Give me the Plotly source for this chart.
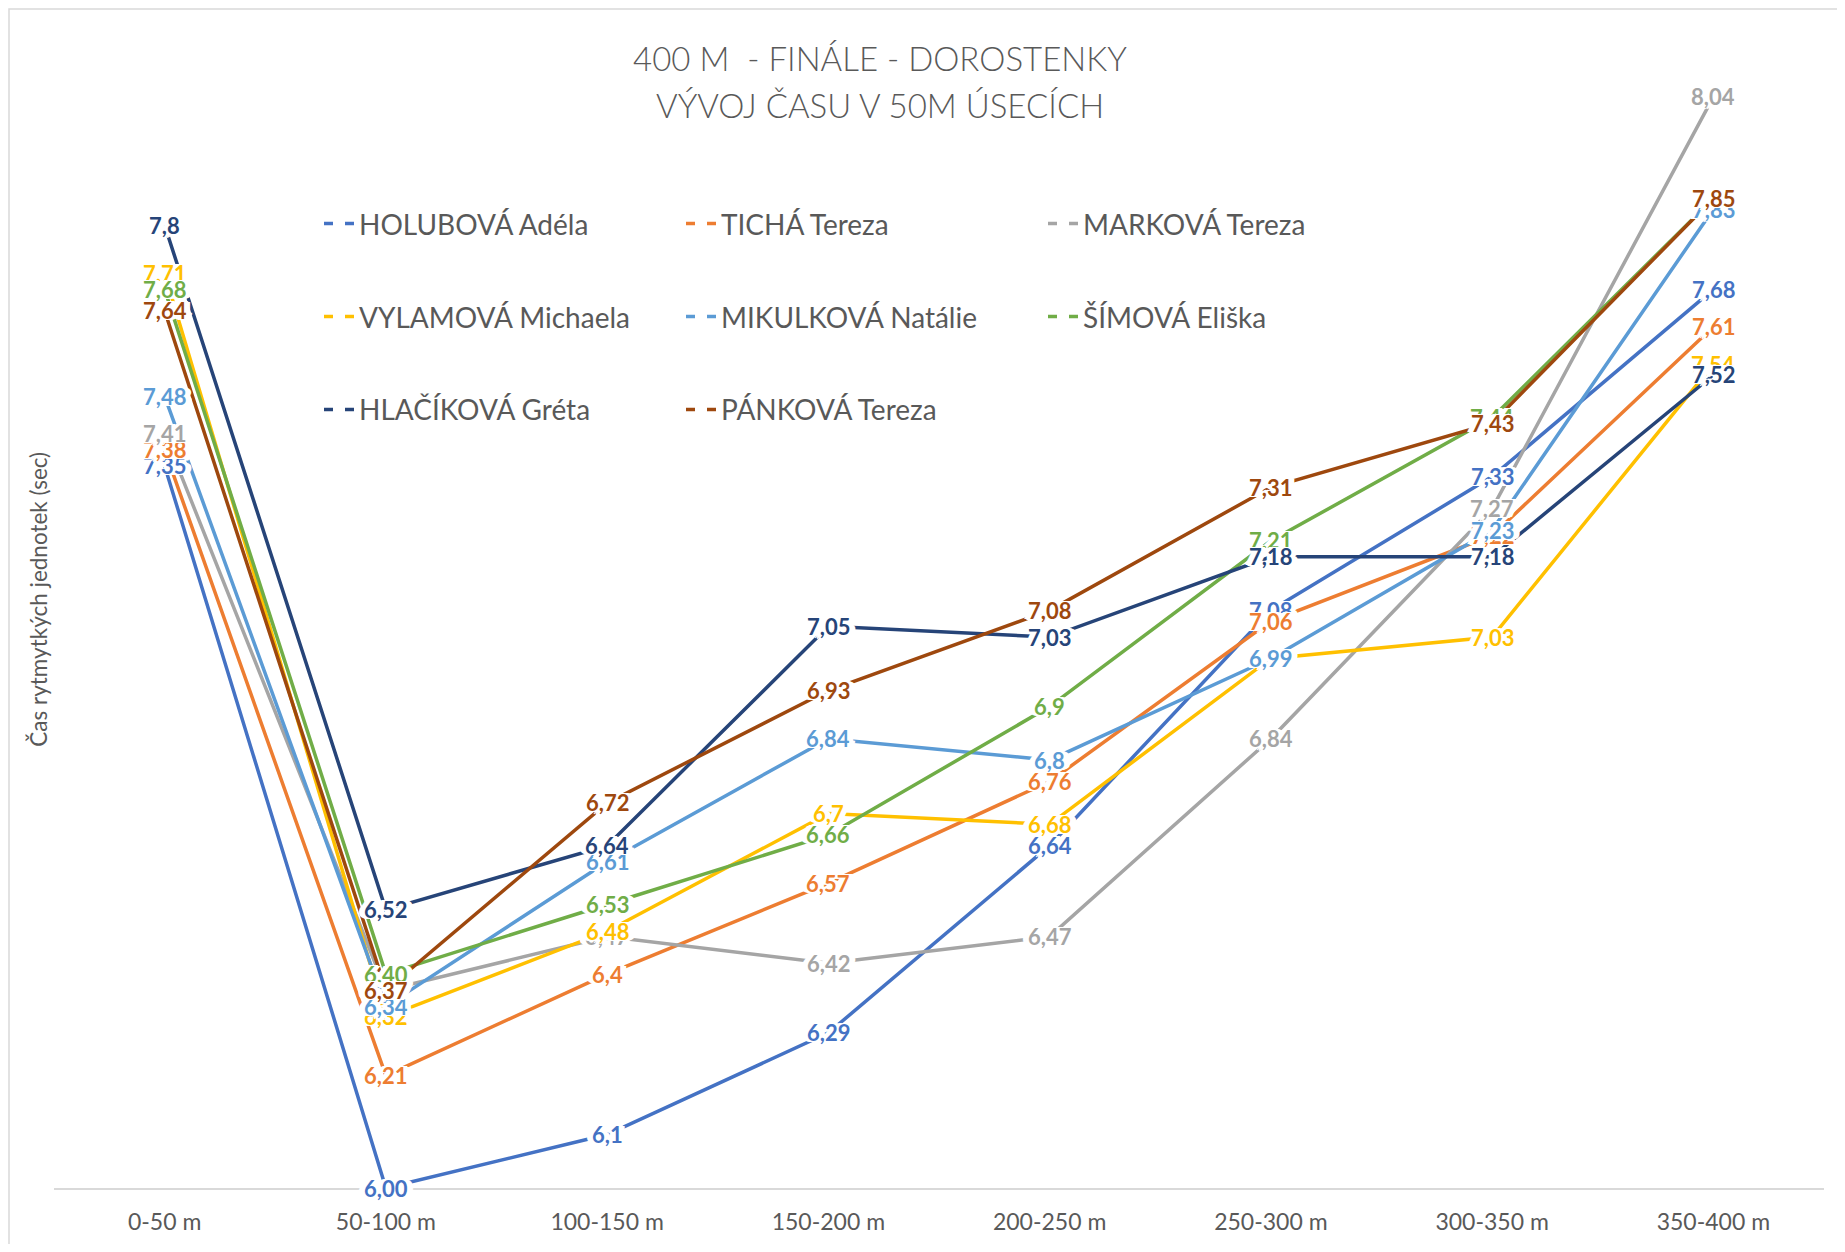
import plotly.graph_objects as go

useky = ["0-50 m", "50-100 m", "100-150 m", "150-200 m", "200-250 m", "250-300 m", "300-350 m", "350-400 m"]

holubova = [7.35, 6.00, 6.1, 6.29, 6.64, 7.08, 7.33, 7.68]
ticha = [7.38, 6.21, 6.4, 6.57, 6.76, 7.06, 7.22, 7.61]
markova = [7.41, 6.37, 6.47, 6.42, 6.47, 6.84, 7.27, 8.04]
vylamova = [7.71, 6.32, 6.48, 6.7, 6.68, 6.99, 7.03, 7.54]
mikulkova = [7.48, 6.34, 6.61, 6.84, 6.8, 6.99, 7.23, 7.83]
simova = [7.68, 6.40, 6.53, 6.66, 6.9, 7.21, 7.44, 7.85]
hlacikova = [7.8, 6.52, 6.64, 7.05, 7.03, 7.18, 7.18, 7.52]
pankova = [7.64, 6.37, 6.72, 6.93, 7.08, 7.31, 7.43, 7.85]

jmena = ["HOLUBOVÁ Adéla", "TICHÁ Tereza", "MARKOVÁ Tereza", "VYLAMOVÁ Michaela",
         "MIKULKOVÁ Natálie", "ŠÍMOVÁ Eliška", "HLAČÍKOVÁ Gréta", "PÁNKOVÁ Tereza"]
casy = [holubova, ticha, markova, vylamova, mikulkova, simova, hlacikova, pankova]
barvy = ["#4472C4", "#ED7D31", "#A5A5A5", "#FFC000", "#5B9BD5", "#70AD47", "#264478", "#9E480E"]
legendy = ["legend", "legend", "legend", "legend2", "legend2", "legend2", "legend3", "legend3"]

# stranka ma 8px okraj (body margin), figuru tomu prizpusobime
OFF = 8
W, H = 1845 - 2 * OFF, 1252 - 2 * OFF
L = 54 - OFF
R = W - (1824 - OFF)
T = 38 - OFF
B = H - (1188.5 - OFF)
plot_w = W - L - R
plot_h = H - T - B
gray_txt = "#595959"
FONT = "Lato"


def popisky(vals):
    # sloupec 50-100 m ma v originale format 0,00
    out = []
    for i, v in enumerate(vals):
        s = f"{v:.2f}" if i == 1 else f"{v:g}"
        out.append(s.replace(".", ","))
    return out


def py(page_y):
    return 1 - (page_y - OFF - T) / plot_h


def pxx(page_x):
    return (page_x - OFF - L) / plot_w


fig = go.Figure()

for jm, c, b in zip(jmena, casy, barvy):
    fig.add_trace(go.Scatter(x=useky, y=c, mode="lines", name=jm,
                             line=dict(color=b, width=3.5), showlegend=False,
                             hoverinfo="skip"))

# legenda s carkovanym symbolem
for jm, b, lg in zip(jmena, barvy, legendy):
    fig.add_trace(go.Scatter(x=[None], y=[None], mode="lines", name=jm, legend=lg,
                             line=dict(color=b, width=3.5, dash="9px,12px")))

# popisky hodnot, bily lem preruší cary jako v Excelu
halo = ", ".join(f"{dx}px {dy}px 0 #fff" for dx, dy in
                 [(2, 0), (-2, 0), (0, 1), (0, -1), (2, 1), (-2, -1), (2, -1), (-2, 1),
                  (4, 0), (-4, 0), (6, 0), (-6, 0), (4, 1), (-4, -1), (4, -1), (-4, 1)])
popis = []
for c, b in zip(casy, barvy):
    for kat, v, t in zip(useky, c, popisky(c)):
        popis.append(dict(x=kat, y=v, text=t, xref="x", yref="y", showarrow=False,
                          xanchor="center", yanchor="middle",
                          font=dict(family=FONT, size=22, color=b, weight=700, shadow=halo)))

popis.append(dict(text="Čas rytmytkých jednotek (sec)", textangle=-90,
                  xref="paper", yref="paper", x=pxx(39), y=py(600),
                  xanchor="center", yanchor="middle", showarrow=False,
                  font=dict(family=FONT, size=22.5, color=gray_txt)))

nadpis = ["400 M  - FINÁLE - DOROSTENKY", "VÝVOJ ČASU V 50M ÚSECÍCH"]
for radek, y_px in zip(nadpis, [58, 105]):
    popis.append(dict(text=radek, xref="paper", yref="paper", x=pxx(880), y=py(y_px),
                      xanchor="center", yanchor="middle", showarrow=False,
                      font=dict(family=FONT, size=33, color=gray_txt, weight=300)))

leg_common = dict(orientation="h", xanchor="left", yanchor="middle",
                  font=dict(family=FONT, size=28, color=gray_txt),
                  entrywidth=317, entrywidthmode="pixels", bgcolor="rgba(0,0,0,0)",
                  itemclick=False)

fig.update_layout(
    width=W, height=H,
    margin=dict(l=L, r=R, t=T, b=B, pad=0, autoexpand=False),
    paper_bgcolor="white", plot_bgcolor="white",
    showlegend=True,
    legend=dict(x=pxx(319), y=py(224), **leg_common),
    legend2=dict(x=pxx(319), y=py(317), **leg_common),
    legend3=dict(x=pxx(319), y=py(410), **leg_common),
    xaxis=dict(type="category", range=[-0.5, 7.5], showgrid=False, zeroline=False,
               showline=True, linecolor="#D9D9D9", linewidth=2, ticks="",
               automargin=False,
               tickfont=dict(family=FONT, size=23, color=gray_txt), ticklabelstandoff=12),
    yaxis=dict(range=[6, 8.15], showgrid=False, zeroline=False, showline=False,
               showticklabels=False, ticks="", automargin=False),
    annotations=popis,
    shapes=[dict(type="rect", xref="paper", yref="paper", x0=pxx(9), y0=py(1300),
                 x1=pxx(1900), y1=py(9), line=dict(color="#D9D9D9", width=1.5),
                 fillcolor="rgba(0,0,0,0)", layer="below")],
)

fig.write_html("out.html")
